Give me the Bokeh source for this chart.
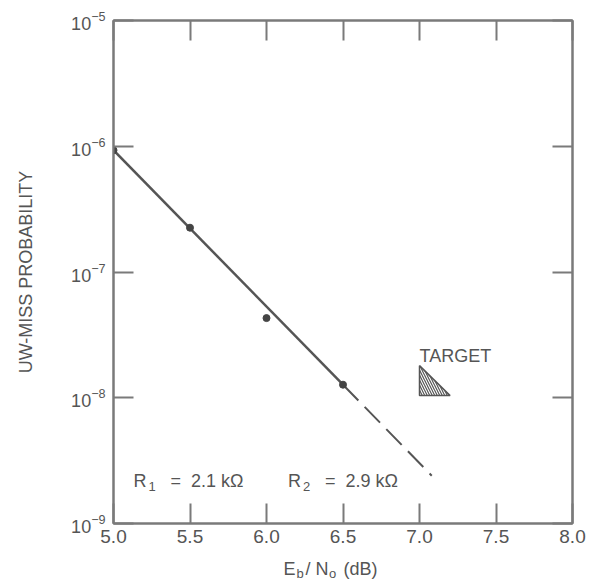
from bokeh.plotting import figure
from bokeh.models import FixedTicker, LinearAxis, LogAxis, Label, Range1d, LogTickFormatter
from bokeh.embed import file_html
from bokeh.resources import INLINE

# ---- data ----
ebno = [5.0, 5.5, 6.0, 6.5]
miss_prob = [9.3e-7, 2.25e-7, 4.3e-8, 1.27e-8]
fit_x = [5.0, 6.5]
fit_y = [9.3e-7, 1.27e-8]
extrap_x = [6.5, 7.08]
extrap_y = [1.27e-8, 2.4e-9]
target_x = [7.0, 7.0, 7.2]
target_y = [1.8e-8, 1.04e-8, 1.04e-8]
x_ticks = [5.0, 5.5, 6.0, 6.5, 7.0, 7.5, 8.0]
x_tick_labels = ["5.0", "5.5", "6.0", "6.5", "7.0", "7.5", "8.0"]
y_ticks = [1e-9, 1e-8, 1e-7, 1e-6, 1e-5]

FONT = "Liberation Sans"
TXT = "#555555"
FRAME = "#7a7a7a"
NB = "\u00a0"

p = figure(width=595, height=582, x_range=Range1d(5.0, 8.0), y_range=Range1d(1e-9, 1e-5),
           y_axis_type="log", output_backend="svg", toolbar_location=None,
           min_border_left=113, min_border_right=23, min_border_top=20, min_border_bottom=59)
p.grid.visible = False
p.outline_line_color = FRAME
p.outline_line_width = 2
p.background_fill_color = "white"
p.border_fill_color = "white"

def style_axis(ax):
    ax.major_tick_in = 20
    ax.major_tick_out = 0
    ax.minor_tick_line_color = None
    ax.major_tick_line_color = FRAME
    ax.major_tick_line_width = 2
    ax.axis_line_color = FRAME
    ax.axis_line_width = 2
    ax.major_label_text_font = FONT
    ax.major_label_text_color = TXT
    ax.major_label_text_font_size = "18px"

xax = p.xaxis[0]
xax.ticker = FixedTicker(ticks=x_ticks, minor_ticks=[])
xax.major_label_overrides = dict(zip(x_ticks, x_tick_labels))
style_axis(xax)
xax.major_label_text_font_size = "19px"
xax.major_label_standoff = 6

yax = p.yaxis[0]
yax.ticker = FixedTicker(ticks=y_ticks, minor_ticks=[])
yax.formatter = LogTickFormatter()
style_axis(yax)
yax.major_label_standoff = 8
yax.axis_label = "UW-MISS PROBABILITY"
yax.axis_label_text_font = FONT
yax.axis_label_text_font_size = "18px"
yax.axis_label_text_font_style = "normal"
yax.axis_label_text_color = TXT
yax.axis_label_standoff = 32

top = LinearAxis(ticker=FixedTicker(ticks=x_ticks, minor_ticks=[]))
style_axis(top)
top.major_label_overrides = {t: "" for t in x_ticks}
p.add_layout(top, "above")
right = LogAxis(ticker=FixedTicker(ticks=y_ticks, minor_ticks=[]))
style_axis(right)
right.major_label_overrides = {t: "" for t in y_ticks}
p.add_layout(right, "right")

# curve
p.line(fit_x, fit_y, line_color="#555555", line_width=2.5)
p.line(extrap_x, extrap_y, line_color="#555555", line_width=2, line_dash="22 9")
p.scatter(ebno, miss_prob, size=7, color="#444444")

# target
p.patch(target_x, target_y, fill_color=None, line_color="#555555", line_width=1.5,
        hatch_pattern="left_diagonal_line", hatch_color="#555555", hatch_scale=5, hatch_weight=1.2)

def make_text(x, y, text, size="18px", xo=0, yo=0):
    return Label(x=x, y=y, text=text, x_offset=xo, y_offset=yo,
                 text_font=FONT, text_font_size=size, text_color=TXT,
                 text_baseline="alphabetic", text_align="left")

p.add_layout(make_text(7.0, 2.16e-8, "TARGET", "18px"))

# R labels
r_y = 2.19e-9
for rx, sub, val in [(5.13, "1", "2.1"), (6.14, "2", "2.9")]:
    p.add_layout(make_text(rx, r_y, "R", "18px"))
    p.add_layout(make_text(rx, r_y, sub, "13px", xo=15, yo=-6))
    p.add_layout(make_text(rx, r_y, "=" + NB + NB + val + " k\u03a9", "18px", xo=37))

# x axis label E_b/N_o (dB), placed in the panel below the frame
lx, ly = 6.111, 4.31e-10
p.add_layout(make_text(lx, ly, "E" + NB + NB + "/" + NB + "N" + NB * 3 + "(dB)", "18px"), "below")
p.add_layout(make_text(lx, ly, "b" + NB * 7 + "o", "13px", xo=13, yo=-4), "below")

open("out.html", "w").write(file_html(p, INLINE))
